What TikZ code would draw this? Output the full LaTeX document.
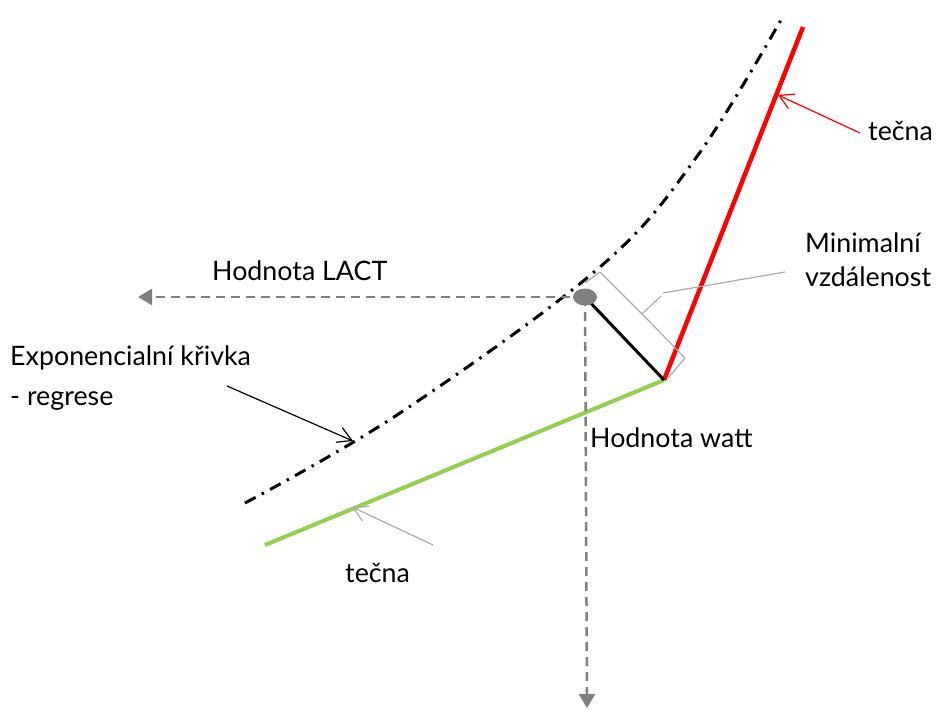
\documentclass[tikz,border=0pt]{standalone}
\usepackage{fontspec}
\setmainfont{Lato}
\usetikzlibrary{arrows.meta}
\definecolor{tgreen}{HTML}{92D050}
\definecolor{dgray}{HTML}{808080}
\definecolor{lgray}{HTML}{ABABAB}
\tikzset{
  lbl/.style={anchor=base west, inner sep=0pt, font=\fontsize{26.8}{32}\selectfont},
  guide/.style={draw=dgray, line width=2.5pt, dash pattern=on 9pt off 6pt, -{Triangle[length=14pt,width=16pt]}},
  pointer/.style={line width=1.2pt, -{Straight Barb[length=14pt,width=16pt]}},
}
\begin{document}
\begin{tikzpicture}[x=1pt,y=-1pt]
\useasboundingbox (0,0) rectangle (936,709);
% key points
\coordinate (P) at (585,297);
\coordinate (C) at (664,380);
\coordinate (Rtop) at (803,27);
\coordinate (Gend) at (265,545);
\coordinate (Lend) at (138,297);
\coordinate (Wend) at (587,708);
% exponential curve
\draw[line width=3pt, dash pattern=on 12pt off 7pt on 2.5pt off 7pt]
  plot[smooth, tension=0.6] coordinates {(245,503) (400,413) (600,267) (698,155) (782,18)};
% tangents
\draw[red, line width=4.5pt] (C) -- (Rtop);
\draw[tgreen, line width=4pt] (C) -- (Gend);
% guide lines
\draw[guide] (P) -- (Lend);
\draw[guide] (P) -- (Wend);
% minimal distance
\draw[line width=3pt] (P) -- (C);
\fill[dgray] (P) ellipse [x radius=12, y radius=8.5];
% brace
\coordinate (B1) at (585,283);
\coordinate (B2) at (600,272);
\coordinate (B3) at (642,314);
\coordinate (Btip) at (661,296);
\coordinate (B4) at (646,318);
\coordinate (B5) at (685,358);
\coordinate (B6) at (668,378);
\draw[lgray, line width=1.2pt, line join=round] (B1) -- (B2) -- (B3) -- (Btip);
\draw[lgray, line width=1.2pt, line join=round] (B3) -- (B4) -- (B5) -- (B6);
% labels
\node[lbl] (lact) at (212,280) {Hodnota LACT};
\node[lbl] (watt) at (590,447) {Hodnota watt};
\node[lbl] (min1) at (805,252) {Minimalní};
\node[lbl] (min2) at (805,286) {vzdálenost};
\node[lbl] (t1) at (868,140) {tečna};
\node[lbl] (t2) at (345,582) {tečna};
\node[lbl] (e1) at (10,365) {Exponencialní křivka};
\node[lbl] (e2) at (10,405) {- regrese};
% pointers
\coordinate (redtail) at (860,133);
\coordinate (redtip) at (778,95);
\draw[pointer, red] (redtail) -- (redtip);
\coordinate (grtail) at (433,545);
\coordinate (grtip) at (352,507);
\draw[pointer, lgray] (grtail) -- (grtip);
\coordinate (bktail) at (227,386);
\coordinate (bktip) at (353,441);
\draw[pointer, black] (bktail) -- (bktip);
\coordinate (mtail) at (663,293);
\coordinate (mhead) at (785,272);
\draw[lgray, line width=1.2pt] (mtail) -- (mhead);
\end{tikzpicture}
\end{document}
